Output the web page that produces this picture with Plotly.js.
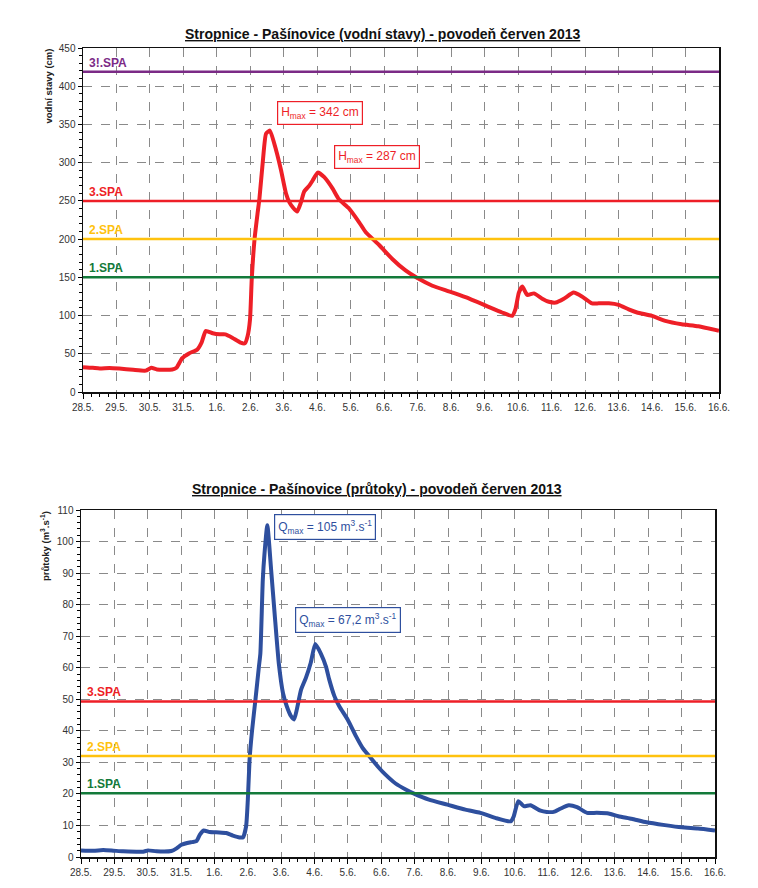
<!DOCTYPE html>
<html><head><meta charset="utf-8">
<script src="https://cdn.plot.ly/plotly-3.0.1.min.js"></script>
<style>html,body{margin:0;padding:0;background:#fff}#chart{width:758px;height:888px}</style>
</head><body><div id="chart"></div><script>
// ---- data ----
const levelTime = ['2013-05-28 00:00','2013-05-28 07:00','2013-05-28 12:00','2013-05-28 19:00','2013-05-29 02:00','2013-05-29 12:00','2013-05-29 21:00','2013-05-30 01:00','2013-05-30 05:00','2013-05-30 16:00','2013-05-30 19:00','2013-05-30 23:00','2013-05-31 04:00','2013-05-31 10:00','2013-05-31 13:00','2013-05-31 16:00','2013-05-31 21:00','2013-06-01 02:00','2013-06-01 06:00','2013-06-01 11:00','2013-06-01 17:00','2013-06-01 20:00','2013-06-01 22:00','2013-06-01 23:45','2013-06-02 01:00','2013-06-02 03:00','2013-06-02 05:15','2013-06-02 06:30','2013-06-02 09:00','2013-06-02 11:15','2013-06-02 14:00','2013-06-02 18:30','2013-06-02 22:00','2013-06-03 01:30','2013-06-03 04:00','2013-06-03 06:15','2013-06-03 09:30','2013-06-03 12:15','2013-06-03 14:30','2013-06-03 18:15','2013-06-03 20:45','2013-06-04 00:15','2013-06-04 05:00','2013-06-04 11:00','2013-06-04 15:30','2013-06-04 22:45','2013-06-05 06:00','2013-06-05 10:45','2013-06-05 20:30','2013-06-06 05:45','2013-06-06 15:15','2013-06-06 23:45','2013-06-07 10:30','2013-06-07 23:30','2013-06-08 10:15','2013-06-08 23:30','2013-06-09 12:30','2013-06-09 19:45','2013-06-09 22:00','2013-06-10 00:30','2013-06-10 03:00','2013-06-10 06:30','2013-06-10 11:15','2013-06-10 17:15','2013-06-10 22:00','2013-06-11 03:00','2013-06-11 08:45','2013-06-11 15:45','2013-06-11 21:45','2013-06-12 05:00','2013-06-12 09:45','2013-06-12 17:00','2013-06-13 00:00','2013-06-13 07:15','2013-06-13 13:15','2013-06-14 00:00','2013-06-14 09:30','2013-06-14 21:15','2013-06-15 09:15','2013-06-16 00:00'];
const levelValue = [32.5,31.6,30.7,31.5,30.7,29,28,31.6,29.4,29.4,31.6,44,50.4,55.7,64.5,79.8,76.8,75.4,75.4,71,64.5,63.6,73,95,148,200,235,253,303,338,342,316,290,260,248,242,236,248,262,270,277,287,281,266,252,240,222,209,192,174,159,149,139,131,124,114,104,99.6,108,130,138,127,129,122,118,117,122,130,125,116,116,116,114,108,104,99.6,93,88.6,86,80];

const flowTime = ['2013-05-28 00:00','2013-05-28 09:00','2013-05-28 16:00','2013-05-28 23:15','2013-05-29 06:15','2013-05-29 20:45','2013-05-30 00:15','2013-05-30 06:15','2013-05-30 17:00','2013-05-30 20:45','2013-05-31 00:15','2013-05-31 07:30','2013-05-31 11:00','2013-05-31 13:30','2013-05-31 16:15','2013-05-31 20:30','2013-06-01 03:30','2013-06-01 08:30','2013-06-01 13:15','2013-06-01 18:00','2013-06-01 20:30','2013-06-01 22:45','2013-06-02 00:00','2013-06-02 01:15','2013-06-02 03:00','2013-06-02 05:30','2013-06-02 08:00','2013-06-02 09:00','2013-06-02 10:45','2013-06-02 12:00','2013-06-02 14:00','2013-06-02 16:45','2013-06-02 19:15','2013-06-02 22:15','2013-06-03 01:15','2013-06-03 04:00','2013-06-03 07:00','2013-06-03 09:15','2013-06-03 11:15','2013-06-03 14:15','2013-06-03 17:45','2013-06-03 21:15','2013-06-04 00:30','2013-06-04 04:30','2013-06-04 08:15','2013-06-04 10:30','2013-06-04 14:15','2013-06-04 17:45','2013-06-04 23:45','2013-06-05 05:45','2013-06-05 10:30','2013-06-05 15:15','2013-06-05 22:15','2013-06-06 03:00','2013-06-06 10:15','2013-06-06 17:30','2013-06-06 23:30','2013-06-07 10:15','2013-06-07 23:30','2013-06-08 12:30','2013-06-08 23:15','2013-06-09 10:00','2013-06-09 21:00','2013-06-09 23:15','2013-06-10 02:30','2013-06-10 06:30','2013-06-10 11:15','2013-06-10 18:30','2013-06-10 23:00','2013-06-11 04:00','2013-06-11 08:45','2013-06-11 14:45','2013-06-11 20:45','2013-06-12 04:00','2013-06-12 11:00','2013-06-12 19:30','2013-06-13 02:30','2013-06-13 12:00','2013-06-13 22:45','2013-06-14 12:00','2013-06-15 00:00','2013-06-15 11:45','2013-06-16 00:00'];
const flowValue = [2.1,2.0,2.2,2.0,1.8,1.7,2.1,1.8,1.9,2.75,3.9,4.7,5.0,7.1,8.4,7.9,7.8,7.6,6.8,6.2,6.2,9.7,18.2,30.9,39.9,50,60.5,64.5,87.8,96.3,105.2,91,77.2,61.4,52,47.8,44.7,43.6,46.8,53,56.8,61.6,67.5,64.5,60.3,56.3,51,47.8,43.6,38.3,34.6,32,28.3,26.1,23.3,21.4,20.1,18.2,16.6,15.0,14.0,12.4,11.3,12.9,17.7,16.1,16.4,14.7,14.3,14.3,15.3,16.4,15.8,14.0,14.0,13.8,12.9,12.1,11.0,10.1,9.4,9.0,8.4];

const levelSpaValues = [419, 250, 200, 150];
const levelSpaLabels = ['3!.SPA', '3.SPA', '2.SPA', '1.SPA'];
const flowSpaValues = [49.3, 32, 20.2];
const flowSpaLabels = ['3.SPA', '2.SPA', '1.SPA'];

const xTickStart = '2013-05-28';
const xTickEnd = '2013-06-16';

// ---- styles ----
const FONT = 'Liberation Sans, Arial, sans-serif';
const spaColorMap = {'3!.SPA': '#7B2A86', '3.SPA': '#EE1F27', '2.SPA': '#FFC20E', '1.SPA': '#137A3A'};
const RED = '#EE1F27';
const BLUE = '#2E4F9E';

const traces = [
  {x: levelTime, y: levelValue, type: 'scatter', mode: 'lines', xaxis: 'x', yaxis: 'y',
   line: {color: RED, width: 4, shape: 'spline', smoothing: 0.5}, hoverinfo: 'skip'},
  {x: flowTime, y: flowValue, type: 'scatter', mode: 'lines', xaxis: 'x2', yaxis: 'y2',
   line: {color: BLUE, width: 4, shape: 'spline', smoothing: 0.5}, hoverinfo: 'skip'}
];

function xAxis(domain, anchor) {
  return {
    type: 'date', domain: domain, anchor: anchor,
    range: [xTickStart, xTickEnd],
    tick0: xTickStart, dtick: 86400000, tickformat: '%-d.%-m.',
    ticks: 'outside', ticklen: 5, tickwidth: 1, tickcolor: '#000',
    tickfont: {family: FONT, size: 10, color: '#333'},
    showgrid: true, gridcolor: '#8a8a8a', gridwidth: 1, griddash: 'dash',
    showline: true, linecolor: '#111', linewidth: 1.5, mirror: true,
    zeroline: false,
    minor: {dtick: 6 * 3600000, ticks: 'outside', ticklen: 3, tickcolor: '#000', showgrid: false}
  };
}
function yAxis(domain, anchor, range, dtick, mdtick) {
  return {
    domain: domain, anchor: anchor, range: range, dtick: dtick, tick0: 0,
    ticks: 'outside', ticklen: 4, tickwidth: 1, tickcolor: '#000',
    tickfont: {family: FONT, size: 10, color: '#333'},
    showgrid: true, gridcolor: '#8a8a8a', gridwidth: 1, griddash: 'dash',
    showline: true, linecolor: '#111', linewidth: 1.5, mirror: true,
    zeroline: false,
    minor: {dtick: mdtick, ticks: 'outside', ticklen: 2.5, tickcolor: '#000', showgrid: false}
  };
}

const shapes = [];
const annotations = [];
function addSpa(values, labels, xref, yref) {
  values.forEach((v, i) => {
    const c = spaColorMap[labels[i]];
    shapes.push({type: 'line', xref: xref + ' domain', yref: yref, x0: 0, x1: 1, y0: v, y1: v,
                 line: {color: c, width: 2.5}});
    annotations.push({xref: xref + ' domain', yref: yref, x: 0, y: v, xanchor: 'left', yanchor: 'bottom',
                      xshift: 4, yshift: 0, showarrow: false, text: '<b>' + labels[i] + '</b>',
                      font: {family: FONT, size: 12, color: c}});
  });
}
addSpa(levelSpaValues, levelSpaLabels, 'x', 'y');
addSpa(flowSpaValues, flowSpaLabels, 'x2', 'y2');

function boxNote(xref, yref, x, y, text, color) {
  annotations.push({xref: xref, yref: yref, x: x, y: y, text: text, showarrow: false,
    font: {family: FONT, size: 12, color: color}, bgcolor: '#fff', bordercolor: color,
    borderwidth: 1.2, borderpad: 3});
}
boxNote('x', 'y', '2013-06-04 01:45', 365, 'H<sub>max</sub> = 342 cm', RED);
boxNote('x', 'y', '2013-06-05 18:45', 307, 'H<sub>max</sub> = 287 cm', RED);
boxNote('x2', 'y2', '2013-06-04 07:30', 104.6, 'Q<sub>max</sub> = 105 m<sup>3</sup>.s<sup>-1</sup>', BLUE);
boxNote('x2', 'y2', '2013-06-05 00:00', 75.1, 'Q<sub>max</sub> = 67,2 m<sup>3</sup>.s<sup>-1</sup>', BLUE);

// titles
annotations.push({xref: 'paper', yref: 'paper', x: 382 / 758, y: 1 - 24 / 888, showarrow: false,
  text: '<b><u>Stropnice - Pašínovice (vodní stavy) - povodeň červen 2013</u></b>',
  font: {family: FONT, size: 14, color: '#111'}});
annotations.push({xref: 'paper', yref: 'paper', x: 377 / 758, y: 1 - 489 / 888, showarrow: false,
  text: '<b><u>Stropnice - Pašínovice (průtoky) - povodeň červen 2013</u></b>',
  font: {family: FONT, size: 14, color: '#111'}});
// y axis titles (top aligned, as in the reference)
annotations.push({xref: 'paper', yref: 'paper', x: 48 / 758, y: 1 - 47 / 888, xanchor: 'center', yanchor: 'top',
  textangle: -90, showarrow: false, text: '<b>vodní stavy (cm)</b>',
  font: {family: FONT, size: 9.5, color: '#222'}});
annotations.push({xref: 'paper', yref: 'paper', x: 45 / 758, y: 1 - 509 / 888, xanchor: 'center', yanchor: 'top',
  textangle: -90, showarrow: false, text: '<b>průtoky (m<sup>3</sup>.s<sup>-1</sup>)</b>',
  font: {family: FONT, size: 9.5, color: '#222'}});

const layout = {
  width: 758, height: 888,
  margin: {l: 0, r: 0, t: 0, b: 0},
  paper_bgcolor: '#fff', plot_bgcolor: '#fff',
  showlegend: false,
  xaxis: xAxis([83 / 758, 719 / 758], 'y'),
  yaxis: yAxis([1 - 392 / 888, 1 - 48 / 888], 'x', [0, 450], 50, 10),
  xaxis2: xAxis([81 / 758, 715 / 758], 'y2'),
  yaxis2: yAxis([1 - 857 / 888, 1 - 510 / 888], 'x2', [0, 110], 10, 2),
  shapes: shapes,
  annotations: annotations
};

Plotly.newPlot('chart', traces, layout, {staticPlot: true, displayModeBar: false});
</script></body></html>
